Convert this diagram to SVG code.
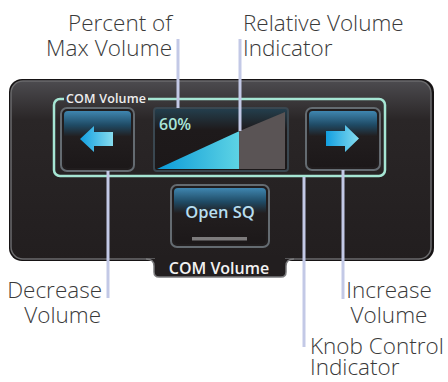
<svg xmlns="http://www.w3.org/2000/svg" width="448" height="382" viewBox="0 0 448 382">
<defs>
<style>
.lbl{font-family:"Open Sans","Liberation Sans",sans-serif;font-weight:300;font-size:22.5px;fill:#3a3a3a}
.lead{stroke:#c3c9e6;stroke-width:3;fill:none}
.btn{fill:#211d1e;stroke:#646b71;stroke-width:2}
.ui{font-family:"Open Sans","Liberation Sans",sans-serif;font-weight:600}
</style>
<linearGradient id="panelG" x1="0" y1="80" x2="0" y2="260" gradientUnits="userSpaceOnUse">
<stop offset="0" stop-color="#4d4c50"/>
<stop offset="0.22" stop-color="#2a2627"/>
<stop offset="1" stop-color="#221e1f"/>
</linearGradient>
<linearGradient id="btnTop" x1="0" y1="0" x2="0" y2="1">
<stop offset="0" stop-color="#3f86b0"/>
<stop offset="0.25" stop-color="#1f4a64"/>
<stop offset="0.45" stop-color="#221e1f"/>
<stop offset="1" stop-color="#1c1819"/>
</linearGradient>
<linearGradient id="arrowG" x1="0" y1="0" x2="1" y2="0">
<stop offset="0" stop-color="#129fe0"/>
<stop offset="1" stop-color="#86dcef"/>
</linearGradient>
<linearGradient id="triG" x1="156" y1="0" x2="239" y2="0" gradientUnits="userSpaceOnUse">
<stop offset="0" stop-color="#0a9ad8"/>
<stop offset="1" stop-color="#5dd3e4"/>
</linearGradient>
<linearGradient id="indG" x1="0" y1="0" x2="0" y2="1">
<stop offset="0" stop-color="#24404f"/>
<stop offset="0.35" stop-color="#1e1a1b"/>
<stop offset="1" stop-color="#1c1819"/>
</linearGradient>
</defs>

<g id="panel">
<rect x="9" y="79" width="425" height="182" rx="13" fill="#161314"/>
<rect x="11" y="81" width="420" height="178" rx="12" fill="url(#panelG)" stroke="#6a6a6c" stroke-width="1.5"/>
</g>

<g id="tab">
<path d="M146 259 Q154 259 154 266 L154 272 Q154 277 159 277 L281 277 Q286 277 286 272 L286 266 Q286 259 294 259" fill="#221e1f" stroke="#7a7a7c" stroke-width="1.5"/>
<rect x="155" y="256" width="130" height="5" fill="#221e1f"/>
<text class="ui" x="219" y="274" font-size="16" fill="#f2f2f2" text-anchor="middle">COM Volume</text>
</g>

<g id="com-volume-frame">
<path d="M148 99 H379 A6 6 0 0 1 385 105 V170 A6 6 0 0 1 379 176 H60 A6 6 0 0 1 54 170 V105 A6 6 0 0 1 60 99 H64" fill="none" stroke="#a6e6d4" stroke-width="2.5"/>
<text class="ui" x="66" y="103" font-size="12.5" fill="#eeeeee" textLength="80">COM Volume</text>
</g>

<g id="decrease-button">
<rect class="btn" x="61" y="108" width="73" height="63" rx="6"/>
<rect x="64" y="111" width="67" height="57" rx="4" fill="url(#btnTop)"/>
<path d="M80 139 L94 126 L94 132 L113 132 L113 146 L94 146 L94 152 Z" fill="url(#arrowG)"/>
</g>

<g id="volume-indicator">
<rect x="154" y="108" width="134" height="63" rx="3" fill="url(#indG)" stroke="#3a4750" stroke-width="2"/>
<path d="M239 131.2 L285 112 L285 169 L239 169 Z" fill="#5a5455"/>
<path d="M157 169 L239 131.2 L239 169 Z" fill="url(#triG)"/>
<text class="ui" x="159" y="130" font-size="16" fill="#a9e6da">60%</text>
</g>

<g id="increase-button">
<rect class="btn" x="306" y="108" width="74" height="62" rx="6"/>
<rect x="309" y="111" width="68" height="56" rx="4" fill="url(#btnTop)"/>
<path d="M326 131 L345 131 L345 125 L359 138.5 L345 152 L345 146 L326 146 Z" fill="url(#arrowG)"/>
</g>

<g id="open-sq-button">
<rect class="btn" x="171" y="185" width="98" height="62" rx="6"/>
<rect x="174" y="188" width="92" height="56" rx="4" fill="url(#btnTop)"/>
<text class="ui" x="220" y="218" font-size="16.5" fill="#b7def0" text-anchor="middle">Open SQ</text>
<rect x="192" y="237" width="55" height="3.5" fill="#7d7b7c"/>
</g>

<g id="connectors">
<line class="lead" x1="178" y1="39" x2="178" y2="108"/>
<line class="lead" x1="240" y1="39" x2="240" y2="131"/>
<line class="lead" x1="108" y1="171" x2="108" y2="298"/>
<line class="lead" x1="343" y1="170" x2="343" y2="299"/>
<line class="lead" x1="304" y1="177" x2="304" y2="347"/>
</g>

<g id="labels">
<text class="lbl" text-anchor="end"><tspan x="172" y="31">Percent of</tspan><tspan x="172" y="56" textLength="126" lengthAdjust="spacing">Max Volume</tspan></text>
<text class="lbl"><tspan x="243" y="31">Relative Volume</tspan><tspan x="243" y="56">Indicator</tspan></text>
<text class="lbl" text-anchor="end"><tspan x="102" y="298">Decrease</tspan><tspan x="101" y="323">Volume</tspan></text>
<text class="lbl" text-anchor="middle"><tspan x="389" y="298">Increase</tspan><tspan x="389" y="323">Volume</tspan></text>
<text class="lbl"><tspan x="310" y="354">Knob Control</tspan><tspan x="310" y="375">Indicator</tspan></text>
</g>
</svg>
